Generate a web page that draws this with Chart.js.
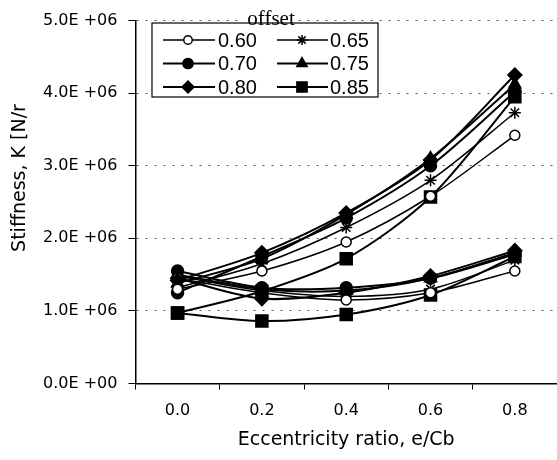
<!DOCTYPE html>
<html>
<head>
<meta charset="utf-8">
<script src="https://cdn.jsdelivr.net/npm/chart.js@4.4.1/dist/chart.umd.min.js"></script>
<style>
  html, body { margin: 0; padding: 0; background: #fff; overflow: hidden; }
  /* canvas is a bit wider than the window so the plot runs off the right edge like the scan */
  #wrap { width: 557px; height: 460px; overflow: hidden; }
</style>
</head>
<body>
<div id="wrap"><canvas id="stiffness-chart" width="567" height="460"></canvas></div>
<script>
// eccentricity ratio categories
const eccRatio = ['0.0', '0.2', '0.4', '0.6', '0.8'];
const offsetLabels = ['0.60', '0.65', '0.70', '0.75', '0.80', '0.85'];
const yTickLabels = ['0.0E +00', '1.0E +06', '2.0E +06', '3.0E +06', '4.0E +06', '5.0E +06'];

// upper group (rising curves), N/m
const upper060 = [1.30e6, 1.55e6, 1.95e6, 2.58e6, 3.42e6];
const upper065 = [1.32e6, 1.65e6, 2.15e6, 2.80e6, 3.73e6];
const upper070 = [1.25e6, 1.75e6, 2.28e6, 3.00e6, 4.02e6];
const upper075 = [1.38e6, 1.72e6, 2.33e6, 3.10e6, 4.12e6];
const upper080 = [1.42e6, 1.80e6, 2.35e6, 3.08e6, 4.25e6];
const upper085 = [0.97e6, 1.27e6, 1.72e6, 2.57e6, 3.95e6];

// lower group (flat curves)
const lower060 = [1.45e6, 1.25e6, 1.15e6, 1.25e6, 1.55e6];
const lower065 = [1.48e6, 1.28e6, 1.20e6, 1.30e6, 1.70e6];
const lower070 = [1.55e6, 1.32e6, 1.32e6, 1.45e6, 1.78e6];
const lower075 = [1.50e6, 1.30e6, 1.28e6, 1.45e6, 1.80e6];
const lower080 = [1.45e6, 1.17e6, 1.25e6, 1.48e6, 1.83e6];
const lower085 = [0.97e6, 0.86e6, 0.95e6, 1.22e6, 1.75e6];

// marker style per offset
const markers = [
    { pointStyle: 'circle', radius: 5, fill: '#fff', width: 1.5 },
    { pointStyle: 'star', radius: 6, fill: '#000', width: 1.5 },
    { pointStyle: 'circle', radius: 6, fill: '#000', width: 2 },
    { pointStyle: 'triangle', radius: 7, fill: '#000', width: 2 },
    { pointStyle: 'rectRot', radius: 7, fill: '#000', width: 2 },
    { pointStyle: 'rect', radius: 8.5, fill: '#000', width: 2 }
];

const upperSets = [upper060, upper065, upper070, upper075, upper080, upper085];
const lowerSets = [lower060, lower065, lower070, lower075, lower080, lower085];

function makeDataset(values, i) {
    const m = markers[i];
    return {
        label: offsetLabels[i],
        data: values,
        borderColor: '#000',
        borderWidth: m.width,
        pointStyle: m.pointStyle,
        pointRadius: m.radius,
        pointBackgroundColor: m.fill,
        pointBorderColor: '#000',
        pointBorderWidth: 1.5,
        tension: 0.3,
        fill: false
    };
}

const datasets = [];
upperSets.forEach((v, i) => datasets.push(makeDataset(v, i)));
lowerSets.forEach((v, i) => datasets.push(makeDataset(v, i)));

// y title drawn off-centre like the scan, and boxed legend inside the plot
const extras = {
    id: 'extras',
    afterDraw(chart) {
        const ctx = chart.ctx;
        const area = chart.chartArea;

        ctx.save();
        ctx.fillStyle = '#000';
        ctx.font = '19px "DejaVu Sans"';
        ctx.textAlign = 'center';
        ctx.textBaseline = 'middle';
        ctx.translate(20, 178);
        ctx.rotate(-Math.PI / 2);
        ctx.fillText('Stiffness, K [N/r', 0, 0);
        ctx.restore();

        // legend box
        const bx = 152, by = 23, bw = 226, bh = 74;
        ctx.save();
        ctx.fillStyle = '#fff';
        ctx.fillRect(bx, by, bw, bh);
        ctx.strokeStyle = '#000';
        ctx.lineWidth = 1.2;
        ctx.strokeRect(bx, by, bw, bh);

        // "offset" caption over the top edge
        ctx.font = '21px "Liberation Serif"';
        ctx.textAlign = 'center';
        ctx.textBaseline = 'alphabetic';
        const tw = ctx.measureText('offset').width;
        ctx.fillStyle = '#fff';
        ctx.fillRect(271 - tw / 2 - 3, area.top - 3, tw + 6, 22 - area.top + 3);
        ctx.fillStyle = '#000';
        ctx.fillText('offset', 271, 25);

        const cols = [{ x1: 163, x2: 215, mx: 188, tx: 218 }, { x1: 277, x2: 328, mx: 302, tx: 330 }];
        const rows = [40, 63.5, 87];
        ctx.font = '20px "Liberation Sans"';
        ctx.textAlign = 'left';
        ctx.textBaseline = 'middle';
        for (let i = 0; i < 6; i++) {
            const c = cols[i % 2];
            const y = rows[Math.floor(i / 2)];
            const m = markers[i];
            ctx.strokeStyle = '#000';
            ctx.lineWidth = m.width;
            ctx.beginPath();
            ctx.moveTo(c.x1, y);
            ctx.lineTo(c.x2, y);
            ctx.stroke();
            ctx.fillStyle = m.fill;
            ctx.lineWidth = 1.5;
            Chart.helpers.drawPoint(ctx, {
                pointStyle: m.pointStyle,
                radius: m.radius * 0.85,
                rotation: 0,
                borderWidth: 1.5
            }, c.mx, y);
            ctx.fillStyle = '#000';
            ctx.fillText(offsetLabels[i], c.tx, y + 1);
        }
        ctx.restore();
    }
};

new Chart(document.getElementById('stiffness-chart'), {
    type: 'line',
    data: {
        labels: eccRatio,
        datasets: datasets
    },
    options: {
        responsive: false,
        animation: false,
        layout: { padding: { left: 32, right: 0, top: 15, bottom: 8.5 } },
        plugins: {
            legend: { display: false },
            tooltip: { enabled: false }
        },
        scales: {
            x: {
                offset: true,
                grid: {
                    offset: true,
                    drawOnChartArea: false,
                    drawTicks: true,
                    tickLength: 6,
                    tickColor: '#000',
                    tickWidth: 1
                },
                border: { display: true, color: '#000', width: 1.5 },
                ticks: {
                    color: '#000',
                    padding: 12,
                    font: { family: 'DejaVu Sans', size: 16 }
                },
                title: {
                    display: true,
                    text: 'Eccentricity ratio, e/Cb',
                    color: '#000',
                    padding: { top: -4, bottom: 0 },
                    font: { family: 'DejaVu Sans', size: 19 }
                }
            },
            y: {
                min: 0,
                max: 5e6,
                ticks: {
                    stepSize: 1e6,
                    color: '#000',
                    padding: 11,
                    font: { family: 'DejaVu Sans', size: 16 },
                    callback: (value, index) => yTickLabels[index]
                },
                grid: {
                    color: (ctx) => ctx.index === 0 ? 'rgba(0,0,0,0)' : '#555',
                    lineWidth: 1,
                    drawTicks: true,
                    tickLength: 7,
                    tickColor: '#000',
                    tickBorderDash: []
                },
                border: { display: true, color: '#000', width: 1.5, dash: [2, 7] }
            }
        }
    },
    plugins: [extras]
});
</script>
</body>
</html>
